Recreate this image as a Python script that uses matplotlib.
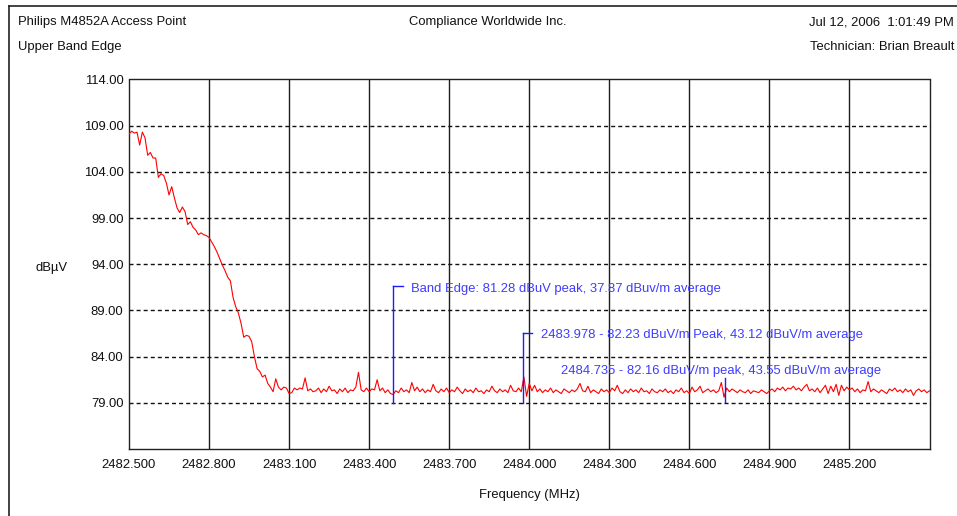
import numpy as np
import matplotlib
matplotlib.use("Agg")
import matplotlib.pyplot as plt
from matplotlib.lines import Line2D

# ---------------- data ----------------
f_start, f_stop, n_pts = 2482.5, 2485.5, 301
freq = np.linspace(f_start, f_stop, n_pts)

level = [
    # 2482.50 - 2482.99
    108.1, 108.4, 108.2, 108.3, 106.9, 108.3, 107.7, 105.8, 106.1, 105.5,
    105.5, 103.4, 103.8, 103.6, 102.8, 101.5, 102.4, 101.2, 100.1, 99.6,
    100.2, 99.7, 98.3, 98.6, 98.0, 97.7, 97.2, 97.4, 97.2, 97.1,
    96.9, 96.4, 95.9, 95.3, 94.6, 93.9, 93.3, 92.6, 92.2, 90.4,
    89.4, 88.7, 87.6, 86.1, 86.3, 86.2, 85.6, 84.0, 82.7, 82.4,
    # 2483.00 - 2483.19
    81.8, 82.0, 81.1, 80.7, 80.2, 81.6, 80.7, 80.4, 80.7, 80.6,
    80.0, 80.1, 80.6, 80.4, 80.6, 80.5, 81.7, 80.3, 80.5, 80.2,
    # 2483.20 - 2483.99
    80.3, 80.6, 80.1, 80.5, 80.2, 80.8, 80.3, 80.4, 80.0, 80.5,
    80.2, 80.6, 80.1, 80.4, 80.3, 80.7, 82.3, 80.4, 80.2, 80.6,
    80.2, 80.5, 80.4, 81.5, 80.3, 80.6, 80.1, 80.4, 80.0, 79.9,
    80.3, 80.1, 80.6, 80.2, 80.4, 80.1, 81.2, 80.3, 80.7, 80.2,
    80.5, 80.1, 80.4, 80.2, 81.0, 80.3, 80.1, 80.5, 80.2, 80.6,
    80.1, 80.4, 80.2, 80.7, 80.3, 80.0, 80.5, 80.2, 80.4, 80.1,
    80.6, 80.2, 80.3, 80.0, 80.4, 80.2, 80.8, 80.3, 80.1, 80.5,
    80.2, 80.4, 80.1, 80.9, 80.3, 80.2, 80.6, 80.2, 81.8, 79.7,
    # 2484.00 - 2484.99
    81.1, 80.3, 80.9, 80.2, 80.5, 80.1, 80.4, 80.2, 80.6, 80.1,
    80.4, 80.2, 80.0, 80.5, 80.3, 80.1, 80.4, 80.2, 80.5, 81.1,
    80.3, 80.2, 80.8, 80.1, 80.4, 80.2, 80.0, 80.5, 80.2, 80.4,
    80.1, 80.6, 80.3, 80.9, 80.2, 80.0, 80.4, 80.1, 80.5, 80.2,
    80.4, 80.1, 80.6, 80.2, 80.3, 80.0, 80.5, 80.2, 80.1, 80.4,
    80.2, 80.5, 80.1, 80.3, 80.0, 80.4, 80.2, 80.6, 80.1, 80.3,
    80.0, 80.7, 80.2, 80.4, 80.8, 80.1, 80.3, 80.5, 80.2, 80.4,
    80.1, 80.3, 81.2, 79.6, 80.6, 80.2, 80.5, 80.3, 80.1, 80.4,
    80.2, 80.1, 80.4, 80.0, 80.3, 80.2, 80.1, 80.4, 80.2, 80.0,
    80.3, 80.5, 80.2, 80.6, 80.4, 80.7, 80.3, 80.6, 80.5, 80.8,
    # 2485.00 - 2485.50
    80.4, 80.6, 80.3, 80.7, 81.0, 80.3, 80.5, 80.2, 80.6, 80.1,
    80.5, 80.9, 80.0, 80.8, 80.2, 81.0, 79.8, 80.9, 80.3, 80.7,
    80.4, 80.6, 80.2, 80.5, 80.1, 80.4, 80.3, 81.3, 80.2, 80.5,
    80.3, 80.1, 80.4, 80.2, 80.0, 80.5, 80.3, 80.6, 80.2, 80.4,
    80.1, 80.5, 80.2, 80.4, 79.8, 80.3, 80.5, 80.2, 80.4, 80.1,
    80.3,
]

x_ticks = [2482.5, 2482.8, 2483.1, 2483.4, 2483.7, 2484.0, 2484.3, 2484.6, 2484.9, 2485.2]
x_tick_labels = ["2482.500", "2482.800", "2483.100", "2483.400", "2483.700",
                 "2484.000", "2484.300", "2484.600", "2484.900", "2485.200"]
y_ticks = [79, 84, 89, 94, 99, 104, 109, 114]
y_tick_labels = ["79.00", "84.00", "89.00", "94.00", "99.00", "104.00", "109.00", "114.00"]
y_min, y_max = 74, 114

marker_freq = [2483.491, 2483.978, 2484.735]
marker_bottom = [79.0, 79.0, 79.1]
marker_top = [91.6, 86.6, 81.7]
marker_text = [
    "Band Edge: 81.28 dBuV peak, 37.87 dBuv/m average",
    "2483.978 - 82.23 dBuV/m Peak, 43.12 dBuV/m average",
    "2484.735 - 82.16 dBuV/m peak, 43.55 dBuV/m average",
]

header_left = ["Philips M4852A Access Point", "Upper Band Edge"]
header_center = "Compliance Worldwide Inc."
header_right = ["Jul 12, 2006  1:01:49 PM", "Technician: Brian Breault"]
x_label = "Frequency (MHz)"
y_label = "dB\u00b5V"

# ---------------- figure ----------------
W, H, DPI = 957, 516, 100
plt.rcParams["font.family"] = ["Liberation Sans", "DejaVu Sans"]
plt.rcParams["lines.scale_dashes"] = False
FS = 9.4

fig = plt.figure(figsize=(W / DPI, H / DPI), dpi=DPI, facecolor="white")

def px(x, y):
    return x / W, 1 - y / H

L, T, R, B = 129, 79.5, 929.5, 449
ax = fig.add_axes([L / W, 1 - B / H, (R - L) / W, (B - T) / H])
ax.set_xlim(f_start, f_stop)
ax.set_ylim(y_min, y_max)

# grid
for xv in x_ticks[1:]:
    ax.axvline(xv, color="#1e1e1e", lw=1.0, zorder=1)
for yv in y_ticks[:-1]:
    ax.axhline(yv, color="#111111", lw=1.0, ls=(0, (2.9, 2.2)), zorder=1)

ax.plot(freq, level, color="#ff0000", lw=0.8, zorder=3)

# markers
blue_line = "#1c1cff"
blue_text = "#3d3dff"
for i, (fm, yb, yt, txt) in enumerate(zip(marker_freq, marker_bottom, marker_top, marker_text)):
    ax.plot([fm, fm], [yb, yt], color=blue_line, lw=1.0, zorder=4)
    if i < 2:
        ax.plot([fm, fm + 0.034], [yt, yt], color=blue_line, lw=1.0, zorder=4)
        ax.annotate(txt, xy=(fm, yt), xytext=(12.5, -2.0), textcoords="offset points",
                    va="center", ha="left", color=blue_text, fontsize=FS, zorder=5)
    else:
        ax.annotate(txt, xy=(fm, yt), xytext=(-118.5, 5.3), textcoords="offset points",
                    va="center", ha="left", color=blue_text, fontsize=FS, zorder=5)

ax.set_xticks(x_ticks)
ax.set_xticklabels(x_tick_labels)
ax.set_yticks(y_ticks)
ax.set_yticklabels(y_tick_labels)
ax.tick_params(length=0, labelsize=FS, colors="#111111")
ax.tick_params(axis="x", pad=7.5)
ax.tick_params(axis="y", pad=4)
for s in ax.spines.values():
    s.set_color("#222222")
    s.set_linewidth(1.0)

ax.set_xlabel(x_label, fontsize=FS, labelpad=12.5, color="#111111")
fig.text(*px(51, 268), y_label, ha="center", va="center", fontsize=FS, color="#111111")

# headers
fig.text(*px(18, 22.5), header_left[0], ha="left", va="center", fontsize=FS, color="#111111")
fig.text(*px(18, 47.5), header_left[1], ha="left", va="center", fontsize=FS, color="#111111")
fig.text(*px(488, 22.5), header_center, ha="center", va="center", fontsize=FS, color="#111111")
fig.text(*px(954, 22.5), header_right[0], ha="right", va="center", fontsize=FS, color="#111111")
fig.text(*px(954, 47.5), header_right[1], ha="right", va="center", fontsize=FS, color="#111111")

# outer frame
fig.add_artist(Line2D([8.5 / W, 8.5 / W], [0, 1 - 6 / H], color="#222222", lw=1.2))
fig.add_artist(Line2D([8.5 / W, 1], [1 - 6 / H, 1 - 6 / H], color="#222222", lw=1.2))

fig.savefig("out.png", dpi=DPI, facecolor="white")
